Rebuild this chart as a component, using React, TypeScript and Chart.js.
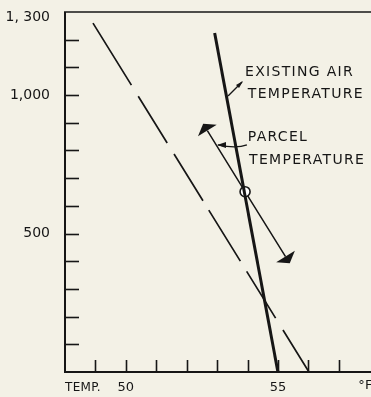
import React, { useEffect, useRef } from "react";
import { Chart, registerables } from "chart.js";

Chart.register(...registerables);

// ---- data (temperature °F, height ft) ----
const existingAirTemp = [52.92, 55.0];
const existingAirHeight = [1224, 0];
const dashedLineTemp = [48.92, 56.02];
const dashedLineHeight = [1260, 0];
const parcelTemp = [52.68, 53.92, 55.25];
const parcelHeight = [872, 651, 417];

const yTickValues = [100, 200, 300, 400, 500, 600, 700, 800, 900, 1000, 1100, 1200];
const yTickLabels: Record<number, string | string[]> = { 1300: ["", "1, 300"], 1000: "1,000", 500: "500" };
const xTickValues = [49, 50, 51, 52, 53, 54, 55, 56, 57];
const xTickLabels: Record<number, string> = { 50: "50", 55: "55" };
const xAxisLeftLabel = "TEMP.";
const xAxisUnitLabel = "°F";
const unitLabelTemp = 57.88;

// annotation texts anchored in data coords (temp, height)
const annotationTexts = ["EXISTING AIR", "TEMPERATURE", "PARCEL", "TEMPERATURE"];
const annotationTemp = [53.92, 54.01, 54.01, 54.05];
const annotationHeight = [1083, 1004, 849, 766];
// leaders: [fromTemp, fromHeight, toTemp, toHeight]
const existingLeader = [53.82, 1047, 53.36, 997];
const parcelLeader = [53.98, 813, 53.03, 820];

const BG = "#f3f1e6";
const INK = "#161616";
const FONT = "'DejaVu Sans', sans-serif";
const DASH = [73, 13, 55, 13, 55, 11, 60, 12, 55, 14, 80];

function toPts(xs: number[], ys: number[]) {
  return xs.map((x, i) => ({ x, y: ys[i] }));
}

const decorPlugin = {
  id: "decor",
  beforeDraw(chart: any) {
    const { ctx, width, height } = chart;
    ctx.save();
    ctx.fillStyle = BG;
    ctx.fillRect(0, 0, width, height);
    ctx.restore();
  },
  beforeDatasetsDraw(chart: any) {
    const { ctx, chartArea: a, scales } = chart;
    const xs = scales.x;
    const ys = scales.y;
    ctx.save();
    ctx.strokeStyle = INK;
    ctx.lineCap = "butt";
    ctx.lineWidth = 2;
    ctx.beginPath();
    ctx.moveTo(a.left, a.top);
    ctx.lineTo(a.left, a.bottom + 1);
    ctx.stroke();
    ctx.beginPath();
    ctx.moveTo(a.left - 1, a.bottom);
    ctx.lineTo(a.right, a.bottom);
    ctx.stroke();
    ctx.lineWidth = 1.5;
    ctx.beginPath();
    ctx.moveTo(a.left - 1, a.top);
    ctx.lineTo(a.right, a.top);
    ctx.stroke();
    ctx.lineWidth = 1.6;
    yTickValues.forEach((v) => {
      const py = Math.round(ys.getPixelForValue(v)) + 0.5;
      ctx.beginPath();
      ctx.moveTo(a.left, py);
      ctx.lineTo(a.left + 14, py);
      ctx.stroke();
    });
    xTickValues.forEach((v) => {
      const px = Math.round(xs.getPixelForValue(v)) + 0.5;
      ctx.beginPath();
      ctx.moveTo(px, a.bottom);
      ctx.lineTo(px, a.bottom - 12);
      ctx.stroke();
    });
    ctx.restore();
  },
  afterDatasetsDraw(chart: any) {
    const { ctx, chartArea: a, scales } = chart;
    const xs = scales.x;
    const ys = scales.y;
    const P = (t: number, h: number) => [xs.getPixelForValue(t), ys.getPixelForValue(h)];
    ctx.save();
    ctx.fillStyle = INK;
    ctx.strokeStyle = INK;

    const meta = chart.getDatasetMeta(2);
    const pts = meta.data;
    const drawHead = (end: any, prev: any) => {
      const dx = end.x - prev.x;
      const dy = end.y - prev.y;
      const len = Math.hypot(dx, dy);
      const ux = dx / len;
      const uy = dy / len;
      const nx = -uy;
      const ny = ux;
      ctx.beginPath();
      ctx.moveTo(end.x + nx * 11, end.y + ny * 11);
      ctx.lineTo(end.x + ux * 8, end.y + uy * 8);
      ctx.lineTo(end.x - nx * 11, end.y - ny * 11);
      ctx.closePath();
      ctx.fill();
    };
    drawHead(pts[0], pts[1]);
    drawHead(pts[2], pts[1]);

    ctx.lineWidth = 1.4;
    const [e1x, e1y] = P(existingLeader[0], existingLeader[1]);
    const [e2x, e2y] = P(existingLeader[2], existingLeader[3]);
    ctx.beginPath();
    ctx.moveTo(e1x, e1y);
    ctx.lineTo(e2x, e2y);
    ctx.stroke();
    ctx.beginPath();
    ctx.moveTo(e1x + 1, e1y - 1);
    ctx.lineTo(e1x - 6, e1y + 3);
    ctx.lineTo(e1x - 3, e1y + 6);
    ctx.closePath();
    ctx.fill();

    const [p1x, p1y] = P(parcelLeader[0], parcelLeader[1]);
    const [p2x, p2y] = P(parcelLeader[2], parcelLeader[3]);
    ctx.beginPath();
    ctx.moveTo(p1x, p1y - 2);
    ctx.quadraticCurveTo((p1x + p2x) / 2 + 4, p1y + 2, p2x, p2y);
    ctx.stroke();
    ctx.beginPath();
    ctx.moveTo(p2x - 1, p2y);
    ctx.lineTo(p2x + 8, p2y - 3);
    ctx.lineTo(p2x + 8, p2y + 3);
    ctx.closePath();
    ctx.fill();

    ctx.font = `14px ${FONT}`;
    ctx.textAlign = "left";
    ctx.textBaseline = "middle";
    try {
      (ctx as any).letterSpacing = "1.3px";
    } catch (e) {}
    annotationTexts.forEach((t, i) => {
      const [tx, ty] = P(annotationTemp[i], annotationHeight[i]);
      ctx.fillText(t, tx, ty);
    });

    try {
      (ctx as any).letterSpacing = "0.3px";
    } catch (e) {}
    ctx.font = `12px ${FONT}`;
    ctx.textAlign = "left";
    ctx.fillText(xAxisLeftLabel, a.left, 388);
    ctx.font = `13px ${FONT}`;
    ctx.textAlign = "center";
    ctx.fillText(xAxisUnitLabel, xs.getPixelForValue(unitLabelTemp), 386);
    ctx.restore();
  },
};

export default function App() {
  const ref = useRef<HTMLCanvasElement | null>(null);
  useEffect(() => {
    if (!ref.current) return;
    const chart = new Chart(ref.current, {
      type: "scatter",
      data: {
        datasets: [
          {
            label: "Existing air temperature",
            data: toPts(existingAirTemp, existingAirHeight),
            showLine: true,
            borderColor: INK,
            borderWidth: 3,
            pointRadius: 0,
          },
          {
            label: "Dashed",
            data: toPts(dashedLineTemp, dashedLineHeight),
            showLine: true,
            borderColor: INK,
            borderWidth: 1.7,
            borderDash: DASH,
            pointRadius: 0,
          },
          {
            label: "Parcel temperature",
            data: toPts(parcelTemp, parcelHeight),
            showLine: true,
            borderColor: INK,
            borderWidth: 1.5,
            pointRadius: [0, 5, 0],
            pointBorderWidth: 1.6,
            pointBorderColor: INK,
            pointBackgroundColor: "#ffffff",
          },
        ],
      },
      options: {
        animation: false,
        responsive: false,
        devicePixelRatio: 1,
        layout: { padding: { top: 12, right: 0, left: 0, bottom: 0 } },
        plugins: { legend: { display: false }, tooltip: { enabled: false } },
        scales: {
          x: {
            type: "linear",
            min: 48,
            max: 58.06,
            grid: { display: false, drawTicks: false },
            border: { display: false },
            ticks: {
              stepSize: 1,
              autoSkip: false,
              maxRotation: 0,
              padding: 8,
              color: INK,
              font: { family: FONT, size: 13 },
              callback: (v: any) => xTickLabels[Number(v)] ?? "",
            },
            afterFit: (s: any) => {
              s.height = 25;
              s.paddingLeft = 0;
              s.paddingRight = 0;
              s.paddingTop = 0;
              s.paddingBottom = 0;
            },
          },
          y: {
            type: "linear",
            min: 0,
            max: 1300,
            grid: { display: false, drawTicks: false },
            border: { display: false },
            ticks: {
              stepSize: 100,
              autoSkip: false,
              padding: 15,
              color: INK,
              font: (c: any) =>
                c.tick && c.tick.value === 1300
                  ? { family: FONT, size: 14, lineHeight: 0.75 }
                  : { family: FONT, size: 14 },
              callback: (v: any) => yTickLabels[Number(v)] ?? "",
            },
            afterFit: (s: any) => {
              s.width = 65;
              s.paddingLeft = 0;
              s.paddingRight = 0;
              s.paddingTop = 0;
              s.paddingBottom = 0;
            },
          },
        },
      },
      plugins: [decorPlugin],
    });
    return () => chart.destroy();
  }, []);
  return (
    <div style={{ position: "absolute", left: 0, top: 0, width: 371, height: 397, background: BG }}>
      <canvas ref={ref} width={371} height={397} />
    </div>
  );
}
